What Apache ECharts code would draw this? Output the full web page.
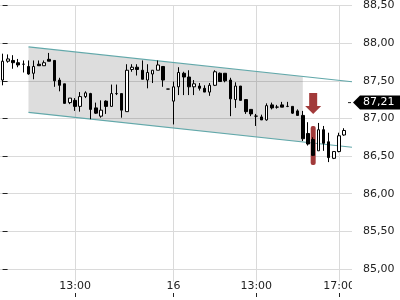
<!DOCTYPE html>
<html><head><meta charset="utf-8">
<script src="https://cdn.jsdelivr.net/npm/echarts@6/dist/echarts.min.js"></script>
<style>html,body{margin:0;padding:0;background:#fff}#c{width:400px;height:300px}</style>
</head><body><div id="c"></div>
<script>
// 15-minute candles, two sessions
const times = [
 "15 09:30","15 09:45","15 10:00","15 10:15","15 10:30","15 10:45","15 11:00","15 11:15","15 11:30","15 11:45",
 "15 12:00","15 12:15","15 12:30","15 12:45","15 13:00","15 13:15","15 13:30","15 13:45","15 14:00","15 14:15",
 "15 14:30","15 14:45","15 15:00","15 15:15","15 15:30","15 15:45","15 16:00","15 16:15","15 16:30","15 16:45",
 "15 17:00","15 17:15","15 17:30",
 "16 09:00","16 09:15","16 09:30","16 09:45","16 10:00","16 10:15","16 10:30","16 10:45","16 11:00","16 11:15",
 "16 11:30","16 11:45","16 12:00","16 12:15","16 12:30","16 12:45","16 13:00","16 13:15","16 13:30","16 13:45",
 "16 14:00","16 14:15","16 14:30","16 14:45","16 15:00","16 15:15","16 15:30","16 15:45","16 16:00","16 16:15",
 "16 16:30","16 16:45","16 17:00","16 17:15","16 17:30"
];
// [open, close, low, high]
const ohlc = [
 [87.51,87.76,87.44,87.86],[87.76,87.79,87.74,87.85],[87.77,87.74,87.66,87.84],[87.74,87.71,87.68,87.79],
 [87.72,87.72,87.61,87.77],[87.69,87.59,87.58,87.77],[87.60,87.69,87.52,87.77],[87.72,87.70,87.70,87.77],
 [87.70,87.74,87.70,87.77],[87.785,87.76,87.76,87.87],[87.77,87.50,87.42,87.77],[87.51,87.44,87.36,87.54],
 [87.46,87.20,87.20,87.46],[87.21,87.27,87.19,87.27],[87.24,87.16,87.10,87.27],[87.16,87.29,87.09,87.35],
 [87.29,87.34,87.27,87.36],[87.33,87.12,86.99,87.34],[87.14,87.07,87.06,87.21],[87.03,87.11,87.01,87.24],
 [87.23,87.16,87.06,87.24],[87.16,87.33,87.16,87.45],[87.33,87.33,87.31,87.45],[87.33,87.11,87.01,87.33],
 [87.09,87.64,87.09,87.72],[87.65,87.68,87.62,87.72],[87.68,87.65,87.57,87.72],[87.64,87.52,87.52,87.77],
 [87.51,87.61,87.40,87.72],[87.59,87.64,87.47,87.64],[87.64,87.71,87.64,87.77],[87.69,87.51,87.42,87.69],
 [87.39,87.39,87.39,87.39],
 [87.23,87.42,86.92,87.49],[87.42,87.61,87.31,87.68],[87.60,87.55,87.31,87.62],[87.55,87.42,87.31,87.64],
 [87.42,87.46,87.31,87.51],[87.43,87.40,87.37,87.47],[87.40,87.35,87.35,87.44],[87.35,87.44,87.30,87.47],
 [87.44,87.62,87.43,87.64],[87.60,87.49,87.49,87.61],[87.60,87.50,87.48,87.60],[87.51,87.26,87.03,87.54],
 [87.25,87.43,87.14,87.48],[87.43,87.24,87.24,87.43],[87.25,87.09,87.06,87.25],[87.12,87.06,87.03,87.12],
 [87.03,87.03,86.90,87.06],[87.02,86.98,86.98,87.05],[86.98,87.17,86.97,87.20],[87.18,87.14,87.12,87.21],
 [87.15,87.15,87.13,87.18],[87.18,87.15,87.15,87.22],[87.16,87.16,87.15,87.22],[87.16,87.07,87.06,87.16],
 [87.10,87.04,87.04,87.12],[87.04,86.73,86.70,87.10],[86.80,86.66,86.64,86.95],[86.72,86.51,86.50,86.75],
 [86.57,86.85,86.57,86.94],[86.85,86.67,86.57,86.90],[86.69,86.48,86.42,86.81],[86.47,86.56,86.46,86.56],
 [86.56,86.77,86.55,86.81],[86.78,86.84,86.77,86.87],
 '-'
];
const tickIndex = [14, 33, 49, 65];
const tickText = ['13:00', '16', '13:00', '17:00'];
const yMin = 85.0, yMax = 88.5, yStep = 0.5;
const vGridBottom = 84.83; // vertical grid lines run a little below the lowest price line

// trend channel (x in candle index units)
const channelUpper = [[5, 87.95], [67.5, 87.4875]];
const channelLower = [[5, 87.08], [67.5, 86.6175]];
const shadeUpper = [[5, 87.95], [58, 87.558]];
const shadeLower = [[5, 87.08], [58, 86.688]];
// signal candle highlight [index, low, high] and arrow
const signalBar = [[60, 86.38, 86.90]];
const arrowPoint = [[60, 87.197]];
const lastPrice = 87.21;

const FONT = 'DejaVu Sans';
const chart = echarts.init(document.getElementById('c'), null, {renderer: 'canvas'});
const showTick = (i) => tickIndex.indexOf(i) >= 0;

chart.setOption({
  animation: false,
  backgroundColor: '#fff',
  grid: {left: 0, right: 48, top: 0, height: 269},
  xAxis: [{
    type: 'category', data: times, boundaryGap: true, offset: 24,
    axisLine: {show: false},
    axisTick: {show: true, interval: showTick, alignWithLabel: true, length: 4, lineStyle: {color: '#222'}},
    axisLabel: {show: true, inside: true, interval: showTick, margin: 1, color: '#222', fontFamily: FONT, fontSize: 11,
      formatter: (v, i) => tickText[tickIndex.indexOf(i)]},
    splitLine: {show: false}
  }, {
    type: 'value', min: -0.5, max: 67.5, show: false
  }],
  yAxis: {
    type: 'value', position: 'right', min: yMin, max: yMax, interval: yStep,
    axisLine: {show: false},
    axisTick: {show: true, length: 5, lineStyle: {color: '#222'}},
    axisLabel: {margin: 11, color: '#222', fontFamily: FONT, fontSize: 11,
      formatter: v => v.toFixed(2).replace('.', ',')},
    splitLine: {show: true, lineStyle: {color: '#dadada', width: 1}}
  },
  series: [{
    // vertical grid lines at the labelled times
    type: 'custom', xAxisIndex: 1, z: 0, silent: true, clip: false,
    data: tickIndex.map(i => [i, yMax]),
    renderItem: (params, api) => {
      const a = api.coord([api.value(0), yMax]);
      const b = api.coord([api.value(0), vGridBottom]);
      const x = Math.round(a[0]) + 0.5;
      return {type: 'line', shape: {x1: x, y1: a[1], x2: x, y2: b[1]}, style: {stroke: '#dadada', lineWidth: 1}};
    }
  }, {
    type: 'custom', xAxisIndex: 1, z: 1, silent: true,
    data: [[shadeUpper[0][0], shadeUpper[0][1]]],
    renderItem: (params, api) => ({
      type: 'polygon',
      shape: {points: [shadeUpper[0], shadeUpper[1], shadeLower[1], shadeLower[0]].map(p => api.coord(p))},
      style: {fill: 'rgba(0,0,0,0.135)'}
    })
  }, {
    type: 'line', xAxisIndex: 1, z: 2, data: channelUpper, showSymbol: false, silent: true,
    lineStyle: {color: '#62a8aa', width: 1.2}
  }, {
    type: 'line', xAxisIndex: 1, z: 2, data: channelLower, showSymbol: false, silent: true,
    lineStyle: {color: '#62a8aa', width: 1.2}
  }, {
    type: 'custom', xAxisIndex: 1, z: 3, silent: true, data: signalBar,
    renderItem: (params, api) => {
      const top = api.coord([api.value(0), api.value(2)]);
      const bot = api.coord([api.value(0), api.value(1)]);
      return {type: 'rect', shape: {x: top[0] - 2.5, y: top[1], width: 5, height: bot[1] - top[1], r: 2},
        style: {fill: '#a23a3a'}};
    }
  }, {
    type: 'candlestick', z: 4, data: ohlc, barWidth: 3,
    itemStyle: {color: '#fff', color0: '#000', borderColor: '#000', borderColor0: '#000', borderColorDoji: '#000', borderWidth: 1}
  }, {
    type: 'scatter', xAxisIndex: 1, z: 5, data: arrowPoint, silent: true,
    symbol: 'path://M4,0 L12,0 L12,13 L16,13 L8,21 L0,13 L4,13 Z', symbolSize: [16, 21],
    itemStyle: {color: '#a23a3a', opacity: 1}
  }]
});

const py = chart.convertToPixel({yAxisIndex: 0}, lastPrice);
const px = chart.convertToPixel({xAxisIndex: 1}, 67.5);
chart.setOption({
  graphic: [{
    type: 'polygon', z: 100,
    shape: {points: [[px + 1, py], [px + 8, py - 7], [400, py - 7], [400, py + 7], [px + 8, py + 7]]},
    style: {fill: '#000'}
  }, {
    type: 'line', z: 100, shape: {x1: px - 4, y1: py, x2: px - 1, y2: py}, style: {stroke: '#222', lineWidth: 1}
  }, {
    type: 'text', z: 101, x: px + 11, y: py,
    style: {text: lastPrice.toFixed(2).replace('.', ','), fill: '#fff', font: '11px "DejaVu Sans"', verticalAlign: 'middle'}
  }, {
    type: 'rect', z: 100, shape: {x: px, y: 279, width: 400 - px, height: 21}, style: {fill: '#fff'}
  }]
});
</script></body></html>
